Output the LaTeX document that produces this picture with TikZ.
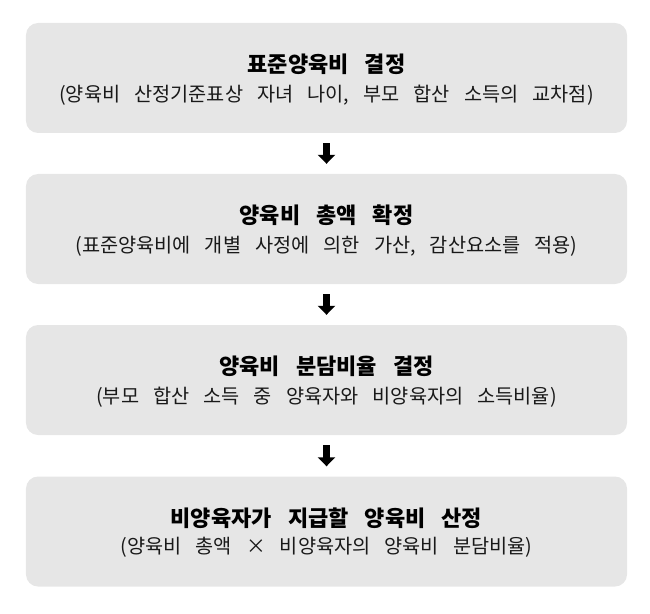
\documentclass[tikz,border=0pt]{standalone}
\usepackage{fontspec}
\newfontfamily\kor[WordSpace=3.2]{Noto Sans CJK KR}
\usetikzlibrary{arrows.meta}

\tikzset{
	stagebox/.style={fill=boxgray, draw=none, rounded corners=12bp, minimum width=601bp, minimum height=110bp, inner sep=0pt},
	stagetitle/.style={font=\kor\bfseries\fontsize{22bp}{24bp}\selectfont, text=black, inner sep=0pt},
	stagenote/.style={font=\kor\fontsize{19.7bp}{22bp}\selectfont, text=black!90, inner sep=0pt},
	flowarrow/.style={line width=7bp, -{Triangle[width=17bp, length=9bp]}, shorten <=10bp, shorten >=10bp}
}
\definecolor{boxgray}{HTML}{E6E6E6}

\begin{document}
\begin{tikzpicture}[x=1bp, y=-1bp]
			%%%%% START %%%%%
			
			\useasboundingbox (0, 0) rectangle (650, 614);
			
			\node[stagebox] (fix) at (326.5, 78) {};
			\node[stagetitle] (fixtitle) at (326.5, 64.5) {표준양육비 결정};
			\node[stagenote] (fixnote) at (326.5, 95) {(양육비 산정기준표상 자녀 나이, 부모 합산 소득의 교차점)};
			
			\node[stagebox] (total) at (326.5, 229) {};
			\node[stagetitle] (totaltitle) at (326.5, 215.5) {양육비 총액 확정};
			\node[stagenote] (totalnote) at (326.5, 246) {(표준양육비에 개별 사정에 의한 가산, 감산요소를 적용)};
			
			\node[stagebox] (share) at (326.5, 380) {};
			\node[stagetitle] (sharetitle) at (326.5, 366.5) {양육비 분담비율 결정};
			\node[stagenote] (sharenote) at (326.5, 397) {(부모 합산 소득 중 양육자와 비양육자의 소득비율)};
			
			\node[stagebox] (pay) at (326.5, 531.5) {};
			\node[stagetitle] (paytitle) at (326.5, 518) {비양육자가 지급할 양육비 산정};
			\node[stagenote] (paynote) at (326.5, 547) {(양육비 총액 × 비양육자의 양육비 분담비율)};
			
			\draw[flowarrow] (fix.south) -- (total.north);
			\draw[flowarrow] (total.south) -- (share.north);
			\draw[flowarrow] (share.south) -- (pay.north);
			
			%%%%% END %%%%%
		\end{tikzpicture}
\end{document}
